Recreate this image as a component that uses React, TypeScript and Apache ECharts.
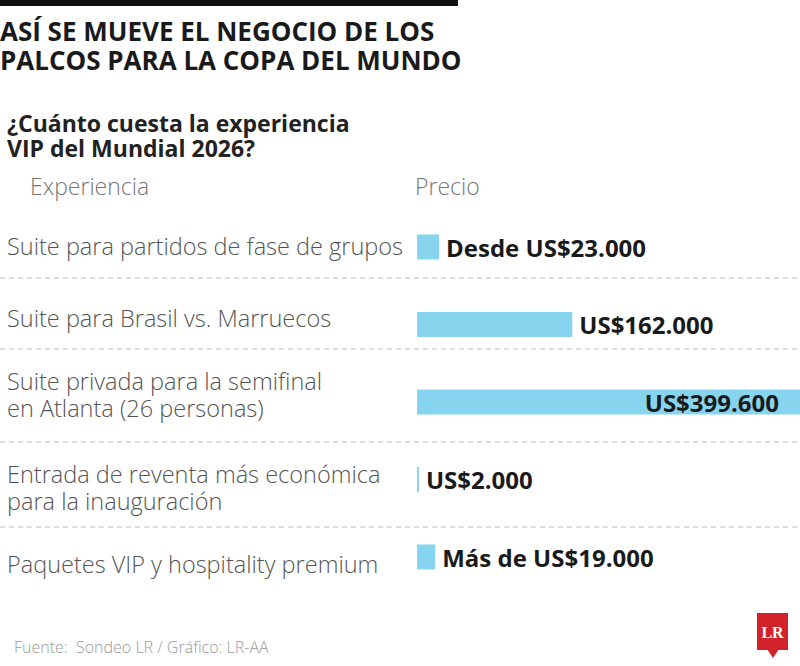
import React, { useEffect, useRef } from "react";
import * as echarts from "echarts";

// Experiences and their prices (US$)
const categories = [
  "Suite para partidos de fase de grupos",
  "Suite para Brasil vs. Marruecos",
  "Suite privada para la semifinal\nen Atlanta (26 personas)",
  "Entrada de reventa más económica\npara la inauguración",
  "Paquetes VIP y hospitality premium",
];
const prices = [23000, 162000, 399600, 2000, 19000];
const pricePrefixes = ["Desde ", "", "", "", "Más de "];

const titleLines = ["ASÍ SE MUEVE EL NEGOCIO DE LOS", "PALCOS PARA LA COPA DEL MUNDO"];
const subtitleLines = ["¿Cuánto cuesta la experiencia", "VIP del Mundial 2026?"];
const columnHeaders = ["Experiencia", "Precio"];
const sourceNote = "Fuente:  Sondeo LR / Gráfico: LR-AA";

// layout helpers: vertical nudge of each row label, separator rows
const labelNudge = [-1.5, -6.5, -7.5, 7.5, 6.5];
const separatorYs = [278, 349, 442, 527];

const FONT = "'Open Sans', 'Noto Sans', sans-serif";
const BAR = "#87d4ee";
const LABEL_LH = 27;

const fmt = (n: number) => "US$" + String(n).replace(/\B(?=(\d{3})+(?!\d))/g, ".");

// one rich style per row: padding moves every line of the label up or down
const rich: Record<string, any> = {};
categories.forEach((_, i) => {
  const s = labelNudge[i];
  rich[`r${i}`] = {
    padding: s > 0 ? [2 * s, 0, 0, 0] : [0, 0, -2 * s, 0],
    lineHeight: LABEL_LH,
  };
});

export default function App() {
  const ref = useRef<HTMLDivElement>(null);

  useEffect(() => {
    if (!ref.current) return;
    const chart = echarts.init(ref.current, null, { renderer: "svg" });
    const maxPrice = Math.max(...prices);

    const graphics: any[] = [
      { type: "rect", shape: { x: 0, y: 0, width: 458, height: 6 }, style: { fill: "#111" } },
      ...titleLines.map((t, i) => ({
        type: "text",
        x: 0,
        y: 31 + i * 28.5,
        style: { text: t, font: `bold 26px ${FONT}`, lineHeight: 28, fill: "#1a1a1a", textVerticalAlign: "middle" },
      })),
      ...subtitleLines.map((t, i) => ({
        type: "text",
        x: 7,
        y: 123 + i * 25,
        style: { text: t, font: `bold 23px ${FONT}`, lineHeight: 25, fill: "#222", textVerticalAlign: "middle" },
      })),
      {
        type: "text", x: 30, y: 186,
        style: { text: columnHeaders[0], font: `300 23px ${FONT}`, fill: "#777", textVerticalAlign: "middle" },
      },
      {
        type: "text", x: 415, y: 186,
        style: { text: columnHeaders[1], font: `300 23px ${FONT}`, fill: "#777", textVerticalAlign: "middle" },
      },
      ...separatorYs.map((y) => ({
        type: "line",
        shape: { x1: 0, y1: y, x2: 800, y2: y },
        style: { stroke: "#bdbdbd", lineWidth: 1, lineDash: [5, 4] },
      })),
      {
        type: "text", x: 14, y: 647,
        style: { text: sourceNote, font: `300 16px ${FONT}`, fill: "#999", textVerticalAlign: "middle" },
      },
      // LR badge
      {
        type: "group",
        children: [
          { type: "rect", shape: { x: 757, y: 613, width: 31, height: 37 }, style: { fill: "#d2232a" } },
          { type: "polygon", shape: { points: [[767, 649], [779, 649], [773, 658]] }, style: { fill: "#d2232a" } },
          {
            type: "text", x: 772.5, y: 632,
            style: {
              text: "LR", font: "bold 16px 'Liberation Serif', 'DejaVu Serif', serif", fill: "#fff",
              textAlign: "center", textVerticalAlign: "middle",
            },
          },
        ],
      },
    ];

    chart.setOption({
      animation: false,
      backgroundColor: "#fff",
      grid: { left: 417, right: 0, top: 208.25, bottom: 70.25, containLabel: false, outerBoundsMode: "none" },
      xAxis: { type: "value", min: 0, max: maxPrice, show: false },
      yAxis: {
        type: "category",
        inverse: true,
        data: categories,
        axisLine: { show: false },
        axisTick: { show: false },
        splitLine: { show: false },
        axisLabel: {
          align: "left",
          margin: 410,
          fontFamily: FONT,
          fontWeight: 300,
          fontSize: 23.5,
          lineHeight: LABEL_LH,
          color: "#555",
          rich,
          formatter: (value: string, index: number) =>
            value
              .split("\n")
              .map((l) => `{r${index}|${l}}`)
              .join("\n"),
        },
      },
      series: [
        {
          type: "bar",
          barWidth: 25,
          itemStyle: { color: BAR },
          data: prices.map((v, i) => {
            const inside = v / maxPrice > 0.8;
            return {
              value: v,
              label: {
                show: true,
                position: inside ? "insideRight" : "right",
                distance: inside ? 21 : 7,
                formatter: pricePrefixes[i] + fmt(v),
                fontFamily: FONT,
                fontWeight: "bold",
                fontSize: 24,
                color: "#1a1a1a",
              },
            };
          }),
        },
      ],
      graphic: graphics,
    });

    return () => chart.dispose();
  }, []);

  return (
    <div
      ref={ref}
      style={{ position: "absolute", left: 0, top: 0, width: 800, height: 666, background: "#fff" }}
    />
  );
}
